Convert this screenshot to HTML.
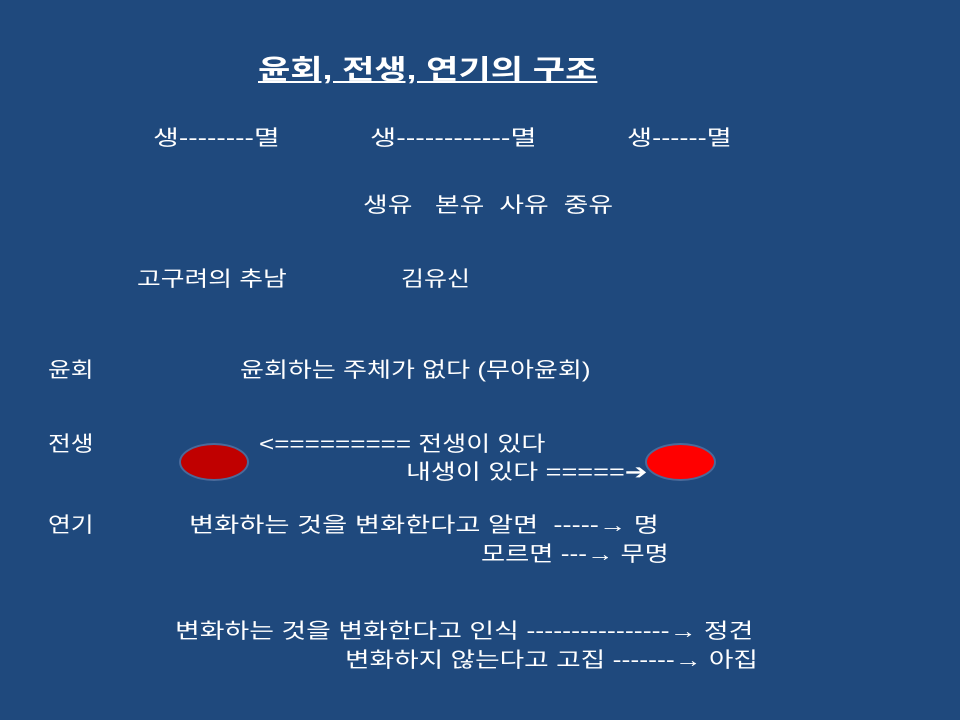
<!DOCTYPE html>
<html><head><meta charset="utf-8"><style>
body{margin:0;width:960px;height:720px;background:#1F497D;overflow:hidden;position:relative;font-family:"Liberation Sans","Noto Sans CJK KR",sans-serif;color:#fff}
.t{position:absolute;font-size:21px;line-height:26px;white-space:nowrap;transform-origin:0 50%}
.e{position:absolute;border-radius:50%;border:2px solid #4a6a9a}
</style></head><body>
<div class="t" style="left:258px;top:53px;font-size:27px;line-height:34px;font-weight:bold;text-decoration:underline;transform:scaleX(1.3)">윤회, 전생, 연기의 구조</div>
<div class="t" style="left:153px;top:126px;transform:scaleX(1.34)">생--------멸</div>
<div class="t" style="left:370px;top:126px;transform:scaleX(1.36)">생------------멸</div>
<div class="t" style="left:627px;top:126px;transform:scaleX(1.3)">생------멸</div>
<div class="t" style="left:363px;top:193px;transform:scaleX(1.28)">생유&nbsp;&nbsp;&nbsp;본유&nbsp;&nbsp;사유&nbsp;&nbsp;중유</div>
<div class="t" style="left:137px;top:267px;transform:scaleX(1.23)">고구려의 추남</div>
<div class="t" style="left:401px;top:267px;transform:scaleX(1.19)">김유신</div>
<div class="t" style="left:48px;top:358px;transform:scaleX(1.18)">윤회</div>
<div class="t" style="left:240px;top:358px;transform:scaleX(1.24)">윤회하는 주체가 없다 (무아윤회)</div>
<div class="t" style="left:48px;top:432px;transform:scaleX(1.18)">전생</div>
<div class="t" style="left:259px;top:432px;transform:scaleX(1.24)">&lt;========= 전생이 있다</div>
<div class="t" style="left:406px;top:460px;transform:scaleX(1.29)">내생이 있다 =====➔</div>
<div class="e" style="left:179px;top:443px;width:66px;height:34px;background:#C00000"></div>
<div class="e" style="left:645px;top:443px;width:67px;height:34px;background:#FF0000"></div>
<div class="t" style="left:48px;top:513px;transform:scaleX(1.18)">연기</div>
<div class="t" style="left:189px;top:513px;transform:scaleX(1.3)">변화하는 것을 변화한다고 알면&nbsp;&nbsp;-----→ 명</div>
<div class="t" style="left:481px;top:542px;transform:scaleX(1.25)">모르면 ---→ 무명</div>
<div class="t" style="left:175px;top:619px;transform:scaleX(1.28)">변화하는 것을 변화한다고 인식 ----------------→ 정견</div>
<div class="t" style="left:345px;top:648px;transform:scaleX(1.27)">변화하지 않는다고 고집 -------→ 아집</div>
</body></html>
